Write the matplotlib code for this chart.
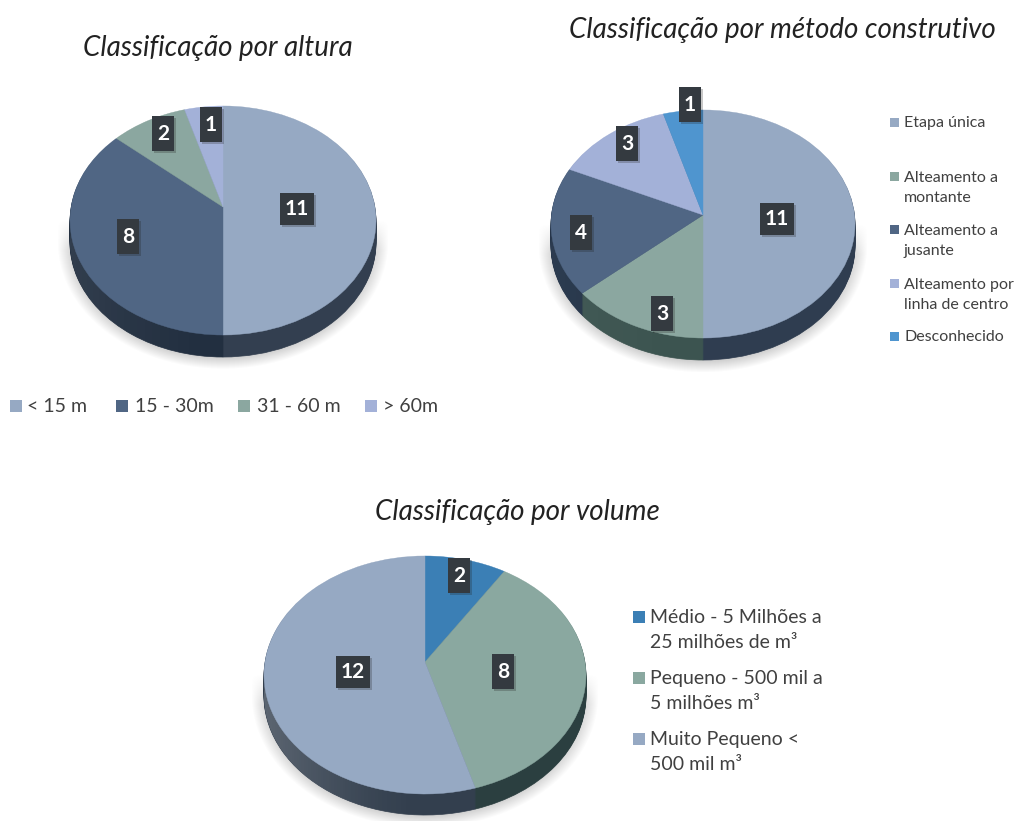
import numpy as np
import matplotlib
matplotlib.use('Agg')
import matplotlib.pyplot as plt
from matplotlib.patches import Ellipse, Rectangle
from matplotlib.transforms import Transform

plt.rcParams['font.family'] = ['Lato', 'DejaVu Sans']

# chart 1 - altura
altura_vals = [11, 8, 2, 1]
altura_cols = ['#96a9c3', '#506684', '#8ba7a0', '#a3b1d8']
altura_side = ['#333f50', '#222f40', '#3a4b48', '#46506a']
altura_labels = ['< 15 m', '15 - 30m', '31 - 60 m', '> 60m']

# chart 2 - metodo construtivo
metodo_vals = [11, 3, 4, 3, 1]
metodo_cols = ['#96a9c3', '#8ba7a0', '#506684', '#a3b1d8', '#4f95cf']
metodo_side = ['#2f3d50', '#3c5450', '#243449', '#46506a', '#2d5675']
metodo_labels = ['Etapa única', 'Alteamento a\nmontante', 'Alteamento a\njusante',
                 'Alteamento por\nlinha de centro', 'Desconhecido']

# chart 3 - volume
volume_vals = [2, 8, 12]
volume_cols = ['#3b7fb5', '#8aa8a0', '#96a9c3']
volume_side = ['#1f4560', '#2b3f40', '#333f4e']
volume_labels = ['Médio - 5 Milhões a\n25 milhões de m³', 'Pequeno - 500 mil a\n5 milhões m³',
                 'Muito Pequeno <\n500 mil m³']


class Tilt(Transform):
    # perspective view of the unit pie, apex is not in the middle of the ellipse
    input_dims = 2
    output_dims = 2

    def __init__(self, cx, apex, top, bottom, rx, drop=0):
        super().__init__()
        up = apex - top
        down = bottom - apex
        self.c = (down - up) / (down + up)
        self.a = up * (1 + self.c)
        self.k = rx * np.sqrt(1 - self.c ** 2)
        self.cx = cx
        self.apex = apex
        self.drop = drop

    def transform_non_affine(self, xy):
        xy = np.asarray(xy, dtype=float)
        w = 1 + self.c * xy[:, 1]
        return np.column_stack([self.cx + self.k * xy[:, 0] / w,
                                self.apex + self.drop - self.a * xy[:, 1] / w])


fig = plt.figure(figsize=(10.28, 8.21), dpi=100)
ax = fig.add_axes([0, 0, 1, 1])


def draw_pie(vals, cols, side, cx, apex, top, bottom, rx, depth, fade):
    cy = (top + bottom) / 2
    ry = (bottom - top) / 2

    # soft shadow behind the pie, straight sides above the lower ellipse
    px, py = np.meshgrid(np.arange(cx - rx - 25, cx + rx + 25), np.arange(cy, bottom + depth + 25))
    dy = np.clip(py - cy - depth, 0, None)
    d = np.sqrt(((px - cx) / (rx + 13)) ** 2 + (dy / (ry + 13)) ** 2)
    alpha = np.clip((1.0 - d) * 8, 0, 1) * np.clip((py - cy) / 30, 0, 1) * 0.5
    img = np.zeros(px.shape + (4,))
    img[..., :3] = 0.5
    img[..., 3] = alpha
    ax.imshow(img, extent=(px.min(), px.max(), py.max(), py.min()), aspect='auto',
              zorder=1, interpolation='bilinear')

    # side wall, same pie stacked downward
    for n in range(depth, 0, -1):
        w, _ = ax.pie(vals, colors=side, startangle=90, counterclock=False)
        for p in w:
            p.set_transform(Tilt(cx, apex, top, bottom, rx, n) + ax.transData)
            p.set_edgecolor(p.get_facecolor())
            p.set_linewidth(0.5)
            p.set_zorder(2)

    # wall gets lighter toward the left end
    grad = np.ones((2, 200, 4))
    grad[..., 3] = np.linspace(fade, 0, 200) ** 1.5
    im = ax.imshow(grad, extent=(cx - rx - 2, cx, bottom + depth + 2, cy), aspect='auto', zorder=3)
    im.set_clip_path(Ellipse((cx, cy + depth), 2 * rx, 2 * ry, transform=ax.transData))

    # top face
    w, _ = ax.pie(vals, colors=cols, startangle=90, counterclock=False)
    for p in w:
        p.set_transform(Tilt(cx, apex, top, bottom, rx) + ax.transData)
        p.set_edgecolor(p.get_facecolor())
        p.set_linewidth(0.3)
        p.set_zorder(4)


def box_label(x, y, s):
    bw = 22 if len(s) == 1 else 34
    bh = 35 if len(s) == 1 else 32
    ax.add_patch(Rectangle((x - bw / 2 + 2, y - bh / 2 + 2), bw, bh, fc='#202020', ec='none', alpha=0.25, zorder=5))
    ax.add_patch(Rectangle((x - bw / 2, y - bh / 2), bw, bh, fc='#343a40', ec='none', zorder=6))
    ax.text(x, y, s, color='white', fontsize=15, fontweight='bold', ha='center', va='center', zorder=7)


def swatch(x, y, size, col):
    ax.add_patch(Rectangle((x, y - size / 2), size, size, fc=col, ec='none', zorder=5))


draw_pie(altura_vals, altura_cols, altura_side, 223, 207, 106, 335, 153, 22, 0.18)
draw_pie(metodo_vals, metodo_cols, metodo_side, 703, 215, 110, 338, 152, 22, 0.12)
draw_pie(volume_vals, volume_cols, volume_side, 425, 662, 556, 794, 161, 21, 0.35)

for x, y, v in zip([297, 128, 163, 211], [209, 237, 134, 125], altura_vals):
    box_label(x, y, str(v))
for x, y, v in zip([777, 662, 581, 627, 690], [219, 314, 233, 144, 105], metodo_vals):
    box_label(x, y, str(v))
for x, y, v in zip([459, 503, 353], [576, 672, 672], volume_vals):
    box_label(x, y, str(v))

ax.text(218, 48, 'Classificação por altura', fontsize=20, style='italic', ha='center', va='center', color='#222222')
ax.text(782, 30, 'Classificação por método construtivo', fontsize=20, style='italic', ha='center', va='center', color='#222222')
ax.text(517, 512, 'Classificação por volume', fontsize=20, style='italic', ha='center', va='center', color='#222222')

# legends
for x, tx, lab, col in zip([10, 116, 238, 365], [27, 135, 257, 383], altura_labels, altura_cols):
    swatch(x, 406, 12, col)
    ax.text(tx, 406, lab, fontsize=14, va='center', color='#404040')

for y, lab, col in zip([123, 188, 241, 295, 337], metodo_labels, metodo_cols):
    sw_y = y - 11 if '\n' in lab else y
    swatch(890, sw_y, 9, col)
    ax.text(904, y, lab, fontsize=11.5, va='center', color='#404040', linespacing=1.6)

for y, lab, col in zip([630, 691, 752], volume_labels, volume_cols):
    swatch(633, y - 13, 12, col)
    ax.text(650, y, lab, fontsize=14, va='center', color='#404040', linespacing=1.55)

ax.set_aspect('auto')
ax.set_xlim(0, 1028)
ax.set_ylim(821, 0)
ax.axis('off')
fig.savefig('out.png', dpi=100, facecolor='white')
